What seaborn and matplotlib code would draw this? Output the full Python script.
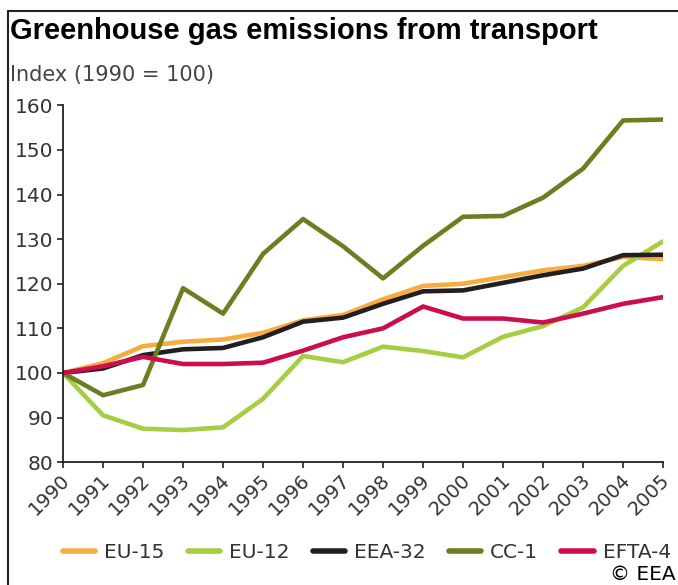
import numpy as np
import pandas as pd
import matplotlib.pyplot as plt
import seaborn as sns
from matplotlib.lines import Line2D
from matplotlib.transforms import ScaledTranslation

# values (index, 1990 = 100)
years = list(range(1990, 2006))
eu15 = [100, 102.2, 106.0, 107.0, 107.5, 109.0, 111.8, 113.0, 116.5, 119.5, 120.0, 121.5, 123.0, 124.0, 126.0, 125.5]
eu12 = [100, 90.5, 87.5, 87.2, 87.8, 94.2, 103.8, 102.4, 105.9, 104.9, 103.5, 108.1, 110.5, 114.7, 124.0, 129.5]
eea32 = [100, 101.0, 104.0, 105.3, 105.6, 108.0, 111.5, 112.4, 115.5, 118.3, 118.5, 120.2, 121.9, 123.4, 126.4, 126.5]
cc1 = [100, 95.0, 97.3, 119.0, 113.3, 126.7, 134.5, 128.4, 121.2, 128.5, 135.0, 135.2, 139.3, 145.8, 156.6, 156.8]
efta4 = [100, 101.5, 103.6, 102.0, 102.0, 102.3, 105.0, 108.0, 110.0, 114.9, 112.2, 112.2, 111.3, 113.3, 115.5, 117.0]

series = ["EU-15", "EU-12", "EEA-32", "CC-1", "EFTA-4"]
colors = ["#F7AC3F", "#A6CE42", "#231F20", "#6B7E22", "#CC0E4F"]

df = pd.DataFrame({
    "year": years * 5,
    "value": eu15 + eu12 + eea32 + cc1 + efta4,
    "series": sum([[s] * len(years) for s in series], []),
})

sns.set_style("white")
plt.rcParams["font.family"] = ["DejaVu Sans"]

fig = plt.figure(figsize=(6.78, 5.85), dpi=100)
ax = fig.add_axes([0.093, 0.21, 0.885, 0.61])

sns.lineplot(data=df, x="year", y="value", hue="series", hue_order=series,
             palette=dict(zip(series, colors)), linewidth=3.3, ax=ax,
             legend=False)

ax.set_xlim(1990, 2005)
ax.set_ylim(80, 160)
ax.set_xticks(years)
ax.set_xticklabels([str(y) for y in years], rotation=45, ha="right",
                   va="center", rotation_mode="anchor", fontsize=14,
                   color="#333333")
ax.set_yticks(range(80, 161, 10))
ax.set_yticklabels([str(v) for v in range(80, 161, 10)], fontsize=14.5,
                   color="#333333")
ax.tick_params(axis="both", direction="out", length=4, width=1.2,
               color="#222222", bottom=True, left=True)
ax.tick_params(axis="x", pad=7)
ax.tick_params(axis="y", pad=3)
shift = ScaledTranslation(4 / 100, 0, fig.dpi_scale_trans)
for lbl in ax.get_xticklabels():
    lbl.set_transform(lbl.get_transform() + shift)
ax.set_xlabel("")
ax.set_ylabel("")
for side in ["top", "right"]:
    ax.spines[side].set_visible(False)
for side in ["left", "bottom"]:
    ax.spines[side].set_color("#222222")
    ax.spines[side].set_linewidth(1.3)

# titles
fig.text(10 / 678, 1 - 31 / 585, "Greenhouse gas emissions from transport",
         fontsize=21, fontweight="bold", family="Liberation Sans",
         va="center", ha="left", color="black")
fig.text(10 / 678, 1 - 75 / 585, "Index (1990 = 100)", fontsize=15,
         va="center", ha="left", color="#444444")

# frame lines at top and left
fig.add_artist(Line2D([8 / 678, 1.0], [1 - 11 / 585, 1 - 11 / 585],
                      color="#222222", lw=1.5, transform=fig.transFigure))
fig.add_artist(Line2D([8 / 678, 8 / 678], [0, 1 - 11 / 585],
                      color="#222222", lw=1.5, transform=fig.transFigure))

# legend
handles = [Line2D([0], [0], color=c, lw=4) for c in colors]
fig.legend(handles, series, loc="center left",
           bbox_to_anchor=(63 / 678, 1 - 553 / 585), ncol=5, frameon=False,
           fontsize=14.5, handlelength=1.6, handletextpad=0.45,
           columnspacing=1.15, borderpad=0, borderaxespad=0,
           labelcolor="#333333")

fig.text(610 / 678, 1 - 575 / 585, "\u00a9 EEA", fontsize=14.5,
         va="center", ha="left", color="black")

fig.savefig("out.png", dpi=100)
